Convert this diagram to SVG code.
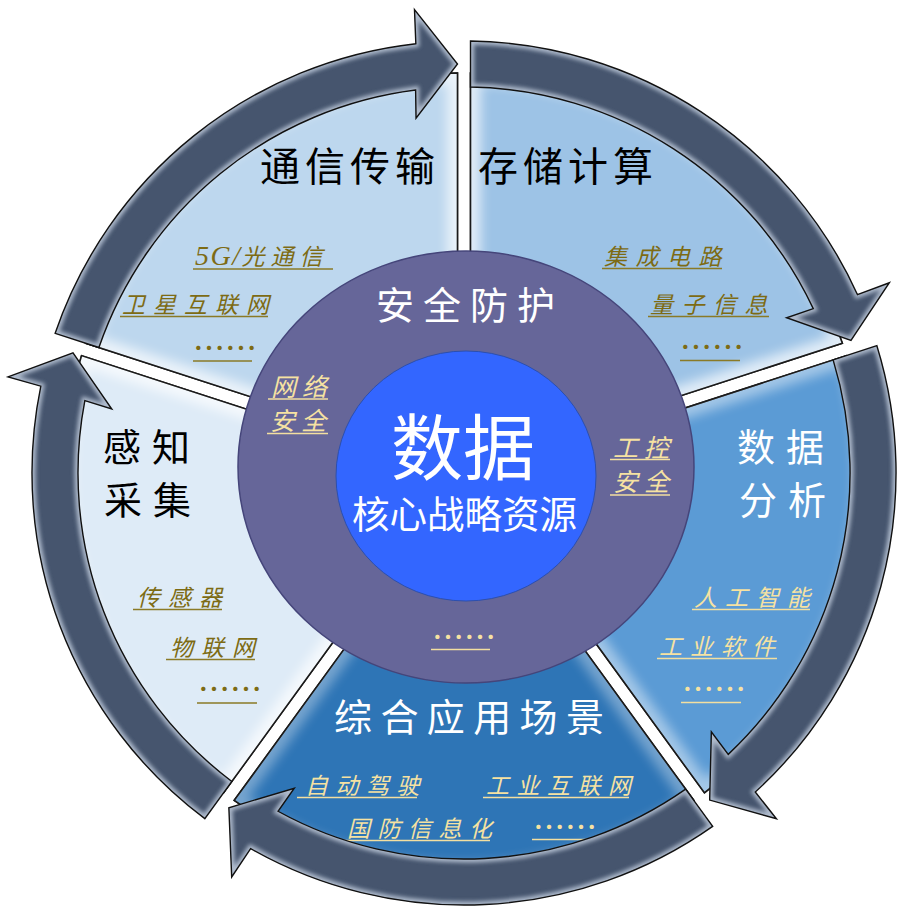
<svg xmlns="http://www.w3.org/2000/svg" width="897" height="909" viewBox="0 0 897 909">
<defs>
<style>
.sec{stroke:#1a1a1a;stroke-width:1.5}
.glow{fill:none;stroke:#ffffff;stroke-width:20;opacity:.7}
.arr{fill:#46556e}
.arrbev{fill:none;stroke:#c3cfdf;stroke-width:7;opacity:.85}
.arrline{fill:none;stroke:#111;stroke-width:1.4}
.t{font-family:"Noto Sans CJK SC",sans-serif}
.core{font-family:"Liberation Sans","Noto Sans CJK SC",sans-serif}
.title{font-size:40px;letter-spacing:5px}
.side{font-size:38px;letter-spacing:11px}
.sub{font-size:23px;font-style:italic;letter-spacing:8px}
.ell{font-size:32px}
.dk{fill:#7d6b14}
.lt{fill:#f6e2a2}
.uld{stroke:#8a7a26;stroke-width:1.6}
.ull{stroke:#f3dfa0;stroke-width:1.6}
</style>
<filter id="soft" x="-10%" y="-10%" width="120%" height="120%"><feGaussianBlur stdDeviation="6"/></filter>
<filter id="bev" x="-5%" y="-5%" width="110%" height="110%"><feGaussianBlur stdDeviation="2"/></filter>
<path id="sA" d="M470.5,323 L470.5,73 A400,400 0 0 1 842.41,343.21 L604.65,420.47 Z"/>
<path id="sB" d="M608.67,432.83 L846.43,355.58 A400,400 0 0 1 704.37,792.79 L557.43,590.53 Z"/>
<path id="sC" d="M546.91,598.17 L693.86,800.43 A400,400 0 0 1 234.15,800.43 L381.09,598.17 Z"/>
<path id="sD" d="M370.57,590.53 L223.63,792.79 A400,400 0 0 1 81.57,355.58 L319.33,432.83 Z"/>
<path id="sE" d="M323.35,420.47 L85.59,343.21 A400,400 0 0 1 457.5,73 L457.5,323 Z"/>
<path id="aE" d="M55.15,333.32 A432,432 0 0 1 415.84,43.69 L414.48,9.64 L457.5,64 L416.03,118.23 L415.62,90.05 A386,386 0 0 0 98.90,347.54 Z"/>
<path id="aA" d="M470.5,41 A432,432 0 0 1 857.41,294.54 L889.38,282.72 L850.97,340.43 L786.59,317.75 L813.26,308.65 A386,386 0 0 0 470.5,87 Z"/>
<path id="aB" d="M876.87,345.69 A432,432 0 0 1 755.30,792.01 L776.42,818.76 L709.66,800.07 L711.34,731.82 L728.24,754.38 A386,386 0 0 0 833.12,359.90 Z"/>
<path id="aC" d="M712.66,826.32 A432,432 0 0 1 250.62,848.62 L231.70,876.98 L228.86,807.71 L294.28,788.21 L278.04,811.26 A386,386 0 0 0 685.63,789.10 Z"/>
<path id="aD" d="M204.82,818.67 A432,432 0 0 1 40.82,386.13 L8.02,376.91 L73.01,352.79 L111.77,408.99 L84.84,400.67 A386,386 0 0 0 231.86,781.46 Z"/>
<clipPath id="csA"><use href="#sA"/></clipPath>
<clipPath id="csB"><use href="#sB"/></clipPath>
<clipPath id="csC"><use href="#sC"/></clipPath>
<clipPath id="csD"><use href="#sD"/></clipPath>
<clipPath id="csE"><use href="#sE"/></clipPath>
<clipPath id="caA"><use href="#aA"/></clipPath>
<clipPath id="caB"><use href="#aB"/></clipPath>
<clipPath id="caC"><use href="#aC"/></clipPath>
<clipPath id="caD"><use href="#aD"/></clipPath>
<clipPath id="caE"><use href="#aE"/></clipPath>
</defs>
<rect width="897" height="909" fill="#ffffff"/>

<g id="node-tongxin">
<use href="#sE" fill="#bdd7ee" class="sec"/>
<g clip-path="url(#csE)"><use href="#sE" class="glow" filter="url(#soft)"/></g>
<use href="#sE" fill="none" class="sec"/>
<text class="t title" x="260" y="181" fill="#000">通信传输</text>
<text class="t sub dk" x="195" y="265"><tspan style="font-family:'Liberation Serif',serif;font-size:28px;letter-spacing:1.5px">5G/</tspan><tspan style="letter-spacing:6px">光通信</tspan></text>
<line class="uld" x1="193" y1="269" x2="333" y2="269"/>
<text class="t sub dk" x="122" y="313">卫星互联网</text>
<line class="uld" x1="120" y1="316.5" x2="268" y2="316.5"/>
<text class="t ell dk" x="193" y="360">……</text>
<line class="uld" x1="193" y1="361" x2="252" y2="361"/>
</g>

<g id="node-cunchu">
<use href="#sA" fill="#9dc3e6" class="sec"/>
<g clip-path="url(#csA)"><use href="#sA" class="glow" filter="url(#soft)"/></g>
<use href="#sA" fill="none" class="sec"/>
<text class="t title" x="478" y="181" fill="#000">存储计算</text>
<text class="t sub dk" x="604" y="265" style="letter-spacing:8.5px">集成电路</text>
<line class="uld" x1="602" y1="268.5" x2="722" y2="268.5"/>
<text class="t sub dk" x="650" y="313" style="letter-spacing:8.5px">量子信息</text>
<line class="uld" x1="648" y1="316.5" x2="769" y2="316.5"/>
<text class="t ell dk" x="680" y="359">……</text>
<line class="uld" x1="680" y1="360.5" x2="740" y2="360.5"/>
</g>

<g id="node-fenxi">
<use href="#sB" fill="#5b9bd5" class="sec"/>
<g clip-path="url(#csB)"><use href="#sB" class="glow" filter="url(#soft)" style="opacity:.45"/></g>
<use href="#sB" fill="none" class="sec"/>
<text class="t side" x="737" y="461" fill="#fff">数据</text>
<text class="t side" x="739" y="514" fill="#fff">分析</text>
<text class="t sub lt" x="694" y="606">人工智能</text>
<line class="ull" x1="692" y1="609.5" x2="810" y2="609.5"/>
<text class="t sub lt" x="659" y="655">工业软件</text>
<line class="ull" x1="657" y1="658.5" x2="777" y2="658.5"/>
<text class="t ell lt" x="682" y="701">……</text>
<line class="ull" x1="681" y1="702.5" x2="741" y2="702.5"/>
</g>

<g id="node-yingyong">
<use href="#sC" fill="#2e75b6" class="sec"/>
<g clip-path="url(#csC)"><use href="#sC" class="glow" filter="url(#soft)" style="opacity:.35"/></g>
<use href="#sC" fill="none" class="sec"/>
<text class="t" x="334" y="731" fill="#fff" style="font-size:38px;letter-spacing:8.4px">综合应用场景</text>
<text class="t sub lt" x="305" y="794" style="letter-spacing:7.5px">自动驾驶</text>
<line class="ull" x1="297" y1="797.5" x2="417" y2="797.5"/>
<text class="t sub lt" x="486" y="794" style="letter-spacing:7.5px">工业互联网</text>
<line class="ull" x1="483" y1="797.5" x2="629" y2="797.5"/>
<text class="t sub lt" x="347" y="837" style="letter-spacing:7.5px">国防信息化</text>
<line class="ull" x1="343" y1="840.5" x2="490" y2="840.5"/>
<text class="t ell lt" x="533" y="839">……</text>
<line class="ull" x1="532" y1="839.5" x2="592" y2="839.5"/>
</g>

<g id="node-ganzhi">
<use href="#sD" fill="#deebf7" class="sec"/>
<g clip-path="url(#csD)"><use href="#sD" class="glow" filter="url(#soft)"/></g>
<use href="#sD" fill="none" class="sec"/>
<text class="t side" x="103" y="461" fill="#000">感知</text>
<text class="t side" x="104" y="514" fill="#000">采集</text>
<text class="t sub dk" x="137" y="606">传感器</text>
<line class="uld" x1="133" y1="609.5" x2="222" y2="609.5"/>
<text class="t sub dk" x="170" y="656">物联网</text>
<line class="uld" x1="166" y1="659.5" x2="255" y2="659.5"/>
<text class="t ell dk" x="198" y="701">……</text>
<line class="uld" x1="197" y1="703" x2="257" y2="703"/>
</g>

<g id="node-anquan">
<ellipse cx="466" cy="467" rx="228" ry="216" fill="#666699" stroke="#45457a" stroke-width="1.5"/>
<text class="t" x="376" y="319" fill="#fff" style="font-size:38px;letter-spacing:9px">安全防护</text>
<text class="t sub lt" x="271" y="396" style="font-size:25px;letter-spacing:6px">网络</text>
<line class="ull" x1="268" y1="399" x2="328" y2="399"/>
<text class="t sub lt" x="270" y="430" style="font-size:25px;letter-spacing:6px">安全</text>
<line class="ull" x1="267" y1="433.5" x2="328" y2="433.5"/>
<text class="t sub lt" x="613" y="457" style="font-size:25px;letter-spacing:6px">工控</text>
<line class="ull" x1="610" y1="459.5" x2="670" y2="459.5"/>
<text class="t sub lt" x="613" y="491" style="font-size:25px;letter-spacing:6px">安全</text>
<line class="ull" x1="610" y1="495" x2="670" y2="495"/>
<text class="t ell lt" x="432" y="649">……</text>
<line class="ull" x1="431" y1="649.5" x2="490" y2="649.5"/>
</g>

<g id="node-shuju">
<ellipse cx="466" cy="476" rx="130" ry="125" fill="#3366ff" stroke="#2c4fae" stroke-width="1"/>
<text class="core" x="391" y="474" fill="#fff" style="font-size:72px">数据</text>
<text class="core" x="352" y="528" fill="#fff" style="font-size:37.5px">核心战略资源</text>
</g>

<g id="connectors">
<use href="#aE" class="arr"/>
<g clip-path="url(#caE)"><use href="#aE" class="arrbev" filter="url(#bev)"/></g>
<use href="#aE" class="arrline"/>
<use href="#aA" class="arr"/>
<g clip-path="url(#caA)"><use href="#aA" class="arrbev" filter="url(#bev)"/></g>
<use href="#aA" class="arrline"/>
<use href="#aB" class="arr"/>
<g clip-path="url(#caB)"><use href="#aB" class="arrbev" filter="url(#bev)"/></g>
<use href="#aB" class="arrline"/>
<use href="#aC" class="arr"/>
<g clip-path="url(#caC)"><use href="#aC" class="arrbev" filter="url(#bev)"/></g>
<use href="#aC" class="arrline"/>
<use href="#aD" class="arr"/>
<g clip-path="url(#caD)"><use href="#aD" class="arrbev" filter="url(#bev)"/></g>
<use href="#aD" class="arrline"/>
</g>
</svg>
